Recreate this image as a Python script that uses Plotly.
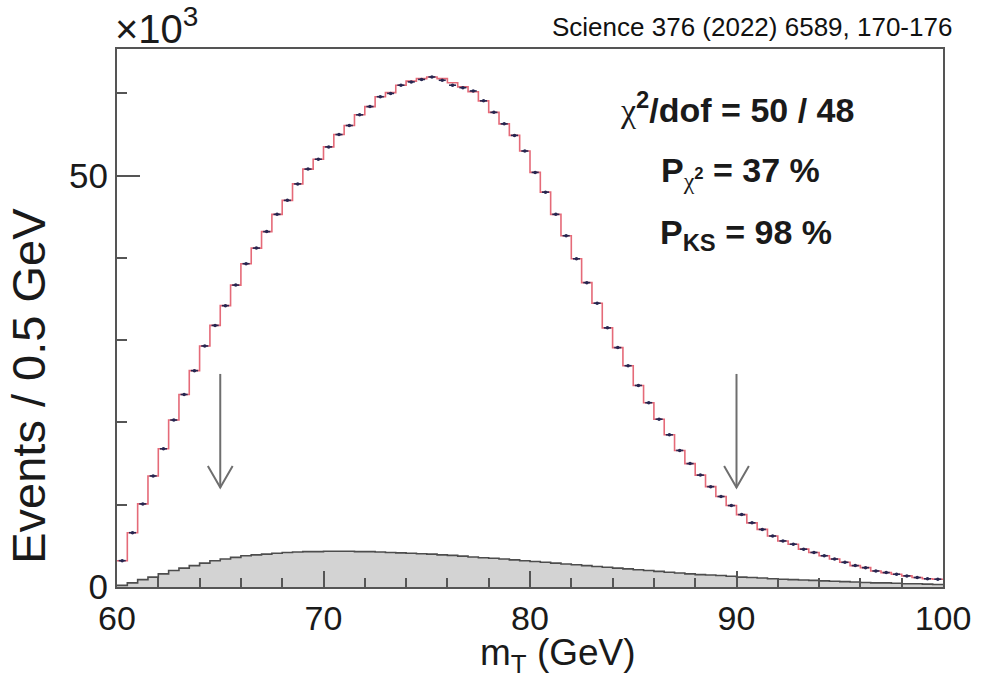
import plotly.graph_objects as go

# Binning: 80 bins of 0.5 GeV between 60 and 100 GeV
bin_width = 0.5
bin_low = [60.0 + bin_width * i for i in range(80)]
bin_centre = [b + bin_width / 2 for b in bin_low]

# Events per bin, in units of 10^3
data_k = [
    3.2, 6.6, 10.1, 13.5, 16.8, 20.3, 23.4, 26.3, 29.3, 31.8,
    34.2, 36.7, 39.3, 41.2, 43.2, 45.3, 47.0, 49.0, 50.8, 52.0,
    53.5, 55.0, 56.1, 57.4, 58.4, 59.6, 60.0, 61.0, 61.4, 61.7,
    62.0, 61.6, 61.0, 60.7, 60.3, 59.1, 57.7, 56.3, 54.9, 53.0,
    50.4, 48.0, 45.3, 42.7, 39.9, 37.0, 34.5, 31.5, 29.1, 26.9,
    24.5, 22.4, 20.4, 18.5, 16.6, 15.0, 13.6, 12.2, 11.0, 9.9,
    8.8, 7.8, 7.0, 6.2, 5.6, 5.2, 4.6, 4.2, 3.8, 3.4,
    3.0, 2.6, 2.35, 1.95, 1.75, 1.55, 1.35, 1.15, 1.0, 0.95,
]
fit_k = [
    3.2, 6.6, 10.1, 13.5, 16.8, 20.3, 23.4, 26.3, 29.3, 31.8,
    34.2, 36.7, 39.3, 41.2, 43.2, 45.3, 47.0, 49.0, 50.8, 52.0,
    53.5, 55.0, 56.1, 57.4, 58.4, 59.6, 60.1, 61.0, 61.5, 61.8,
    62.0, 61.8, 61.3, 60.8, 60.2, 59.1, 57.7, 56.3, 54.9, 53.0,
    50.4, 48.0, 45.3, 42.7, 39.9, 37.0, 34.5, 31.5, 29.1, 26.9,
    24.5, 22.4, 20.4, 18.5, 16.6, 15.0, 13.6, 12.2, 11.0, 9.9,
    8.8, 7.8, 7.0, 6.2, 5.6, 5.2, 4.6, 4.2, 3.8, 3.4,
    3.0, 2.6, 2.35, 1.95, 1.75, 1.55, 1.35, 1.15, 1.0, 0.95,
]
bkg_k = [
    0.2, 0.5, 0.9, 1.2, 1.6, 2.0, 2.3, 2.6, 2.9, 3.2,
    3.4, 3.6, 3.8, 3.9, 4.0, 4.1, 4.2, 4.25, 4.3, 4.3,
    4.35, 4.35, 4.35, 4.3, 4.3, 4.25, 4.2, 4.15, 4.1, 4.05,
    4.0, 3.9, 3.85, 3.75, 3.65, 3.55, 3.5, 3.4, 3.3, 3.2,
    3.1, 3.0, 2.9, 2.8, 2.7, 2.6, 2.5, 2.4, 2.3, 2.2,
    2.1, 2.0, 1.9, 1.8, 1.7, 1.6, 1.5, 1.45, 1.4, 1.3,
    1.2, 1.15, 1.1, 1.0, 0.95, 0.9, 0.85, 0.8, 0.75, 0.7,
    0.65, 0.6, 0.55, 0.5, 0.5, 0.45, 0.4, 0.4, 0.35, 0.3,
]

# Fit-window boundaries marked with arrows
fit_window = [65.0, 90.0]
arrow_top_k = 25.9
arrow_tip_k = 12.1

FONT = "Liberation Sans, Arial, sans-serif"
AXIS_COL = "#555555"
TEXT_COL = "#1a1a1a"


def step_xy(values):
    """Edges and heights for a step outline over the bins."""
    xs = bin_low + [bin_low[-1] + bin_width]
    ys = list(values) + [values[-1]]
    return xs, ys


fig = go.Figure()

# Background component (grey filled histogram)
bx, by = step_xy(bkg_k)
fig.add_trace(go.Scatter(
    x=bx, y=by, mode="lines", line=dict(shape="hv", color="#4d4d4d", width=1.6),
    fill="tozeroy", fillcolor="#d3d3d3", hoverinfo="skip", showlegend=False,
))

# Simulated template (red step line)
fx, fy = step_xy(fit_k)
fig.add_trace(go.Scatter(
    x=fx, y=fy, mode="lines", line=dict(shape="hv", color="#e56a78", width=1.6),
    hoverinfo="skip", showlegend=False,
))

# Data points
fig.add_trace(go.Scatter(
    x=bin_centre, y=data_k, mode="markers",
    marker=dict(size=3.5, color="#262650"),
    error_x=dict(type="constant", value=0.17, thickness=1.6, width=0, color="#262650"),
    showlegend=False,
))

# Arrows marking the fit window
head_dx = 0.6
head_dy = 2.6
ax_pts, ay_pts = [], []
for c in fit_window:
    ax_pts += [c, c, None, c - head_dx, c, c + head_dx, None]
    ay_pts += [arrow_top_k, arrow_tip_k, None,
               arrow_tip_k + head_dy, arrow_tip_k, arrow_tip_k + head_dy, None]
fig.add_trace(go.Scatter(
    x=ax_pts, y=ay_pts, mode="lines", line=dict(color="#6e6e6e", width=2),
    hoverinfo="skip", showlegend=False,
))

fig.update_layout(
    width=983, height=677,
    margin=dict(l=117, r=32, t=49, b=90),
    paper_bgcolor="white", plot_bgcolor="white",
    font=dict(family=FONT, color=TEXT_COL),
    showlegend=False,
)

fig.update_xaxes(
    range=[60, 100], showgrid=False, zeroline=False,
    showline=True, mirror=True, linecolor=AXIS_COL, linewidth=2,
    tickvals=[60, 70, 80, 90, 100], ticktext=["60", "70", "80", "90", "100"],
    ticks="inside", ticklen=16, tickwidth=2, tickcolor=AXIS_COL,
    minor=dict(dtick=2, tick0=60, ticks="inside", ticklen=9, tickwidth=1.5, tickcolor=AXIS_COL),
    tickfont=dict(size=34, family=FONT, color=TEXT_COL),
)

fig.update_yaxes(
    range=[0, 65.4], showgrid=False, zeroline=False,
    showline=True, mirror=True, linecolor=AXIS_COL, linewidth=2,
    tickvals=[0, 50], ticktext=["0", "50"],
    ticks="inside", ticklen=23, tickwidth=2, tickcolor=AXIS_COL,
    minor=dict(dtick=10, tick0=0, ticks="inside", ticklen=10, tickwidth=1.5, tickcolor=AXIS_COL),
    tickfont=dict(size=35, family=FONT, color=TEXT_COL),
    ticklabelstandoff=0,
)

# Axis titles
fig.add_annotation(
    x=0.5336, y=-0.1255, xref="paper", yref="paper", xanchor="center", yanchor="middle",
    text="m<sub>T</sub> (GeV)", showarrow=False,
    font=dict(size=37, family=FONT, color=TEXT_COL),
)
fig.add_annotation(
    x=-0.108, y=0.3736, xref="paper", yref="paper", xanchor="center", yanchor="middle",
    text="Events / 0.5 GeV", showarrow=False, textangle=-90,
    font=dict(size=47, family=FONT, color=TEXT_COL),
)

chi = '<span style="font-family:Liberation Serif, Times New Roman, serif;font-weight:normal">χ</span>'
stats = [
    (0.751, 0.891, chi + "<sup>2</sup>/dof = 50 / 48"),
    (0.755, 0.770, "P<sub>" + chi + "<sup>2</sup></sub> = 37 %"),
    (0.761, 0.656, "P<sub>KS</sub> = 98 %"),
]
for sx, sy, txt in stats:
    fig.add_annotation(
        x=sx, y=sy, xref="paper", yref="paper", xanchor="center", yanchor="middle",
        text="<b>" + txt + "</b>", showarrow=False,
        font=dict(size=34, family=FONT, color=TEXT_COL),
    )

# Axis multiplier
fig.add_annotation(
    x=0.0, y=1.0, xref="paper", yref="paper", xanchor="left", yanchor="bottom",
    text="×10<sup>3</sup>", showarrow=False, yshift=-4, xshift=-4,
    font=dict(size=40, family=FONT, color=TEXT_COL),
)

# Reference
fig.add_annotation(
    x=1.0, y=1.041, xref="paper", yref="paper", xanchor="right", yanchor="middle",
    text="Science 376 (2022) 6589, 170-176", showarrow=False, xshift=11,
    font=dict(size=26, family=FONT, color="#111111"),
)

fig.write_html("out.html")
